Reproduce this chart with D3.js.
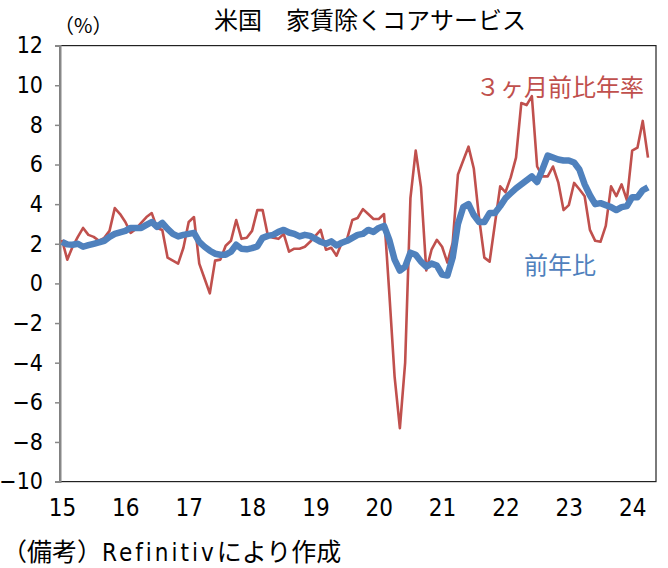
<!DOCTYPE html>
<html>
<head>
<meta charset="utf-8">
<script src="https://cdn.jsdelivr.net/npm/d3@7"></script>
<style>
  body { margin: 0; background: #fff; }
  text { font-family: "Noto Sans CJK JP", "Noto Sans", sans-serif; }
</style>
</head>
<body>
<div id="chart"></div>
<script>
// monthly, Jan 2015 - Apr 2024
var yearLabels = ["15", "16", "17", "18", "19", "20", "21", "22", "23", "24"];
var yTicks = [-10, -8, -6, -4, -2, 0, 2, 4, 6, 8, 10, 12];

// ３ヶ月前比年率
var red3m = [
  2.2, 1.2, 1.85, 2.35, 2.8, 2.45, 2.35, 2.15, 2.3, 2.65, 3.8, 3.5,
  3.1, 2.55, 2.75, 3.05, 3.35, 3.55, 2.8, 2.7, 1.3, 1.15, 1.0, 1.8,
  3.1, 3.35, 1.0, 0.25, -0.5, 1.15, 1.2, 1.9, 2.15, 3.2, 2.25, 2.3,
  2.65, 3.7, 3.7, 2.4, 2.3, 2.25, 2.5, 1.6, 1.75, 1.75, 1.85, 2.1,
  2.4, 2.7, 1.7, 1.8, 1.4, 2.05, 2.25, 3.2, 3.3, 3.75, 3.5, 3.25,
  3.25, 3.5, -0.5, -4.7, -7.3, -4.0, 4.3, 6.7, 4.85, 0.65, 1.7, 2.2,
  1.85, 1.05, 2.05, 5.5, 6.2, 6.9, 5.8, 3.3, 1.3, 1.1, 3.0, 4.9,
  4.6, 5.35, 6.35, 9.1, 9.0, 9.45, 5.9, 5.4, 5.4, 5.9, 5.1, 3.7,
  3.95, 5.07, 4.75, 4.4, 2.7, 2.15, 2.1, 2.9, 4.9, 4.4, 5.0, 4.2,
  6.7, 6.85, 8.2, 6.35
];

// 前年比
var blueYoY = [
  2.1, 1.97, 1.95, 2.0, 1.85, 1.93, 2.0, 2.07, 2.15, 2.35, 2.5, 2.58,
  2.65, 2.8, 2.8, 2.8, 2.95, 3.1, 2.85, 3.05, 2.75, 2.5, 2.37, 2.45,
  2.5, 2.55, 2.1, 1.85, 1.65, 1.5, 1.45, 1.45, 1.6, 1.95, 1.75, 1.72,
  1.78, 1.87, 2.3, 2.4, 2.45, 2.6, 2.7, 2.57, 2.5, 2.37, 2.45, 2.4,
  2.25, 2.1, 2.0, 2.12, 1.92, 2.05, 2.15, 2.3, 2.45, 2.5, 2.7, 2.6,
  2.8, 2.9, 2.2, 1.2, 0.65, 0.85, 1.55, 1.45, 1.1, 0.85, 1.0, 0.9,
  0.45, 0.4, 1.3, 3.0, 3.85, 4.0, 3.45, 3.1, 3.1, 3.55, 3.55, 3.9,
  4.3, 4.55, 4.8, 5.0, 5.2, 5.4, 5.12, 5.75, 6.45, 6.35, 6.25, 6.2,
  6.2, 6.1, 5.75, 5.0, 4.45, 4.0, 4.05, 3.95, 3.85, 3.7, 3.85, 3.9,
  4.35, 4.35, 4.7, 4.85
];

var svg = d3.select("#chart").append("svg")
    .attr("width", 668)
    .attr("height", 568);

var plotL = 60, plotR = 656, plotT = 45.6, plotB = 481.6;
var numFont = "'DejaVu Sans Condensed', 'Liberation Sans Narrow', 'Noto Sans CJK JP', sans-serif";

var x = d3.scaleLinear()
    .domain([0, 111])
    .range([62, 648]);

var y = d3.scaleLinear()
    .domain([-10, 12])
    .range([plotB, plotT]);

// frame
svg.append("rect")
    .attr("x", plotL)
    .attr("y", plotT)
    .attr("width", plotR - plotL)
    .attr("height", plotB - plotT)
    .attr("fill", "none")
    .attr("stroke", "#222")
    .attr("stroke-width", 1.2);

// left axis
var yAxis = svg.append("g")
    .attr("transform", "translate(" + plotL + ",0)")
    .call(d3.axisLeft(y).tickValues(yTicks).tickSize(5).tickFormat(function(d) { return d < 0 ? "\u2212" + (-d) : d; }));
yAxis.select(".domain").attr("stroke", "#888").attr("stroke-width", 2);
yAxis.selectAll(".tick line").attr("stroke", "#888").attr("stroke-width", 1.5);
yAxis.selectAll(".tick text")
    .attr("x", -17)
    .attr("fill", "#000")
    .style("font-size", "23px")
    .style("font-family", numFont);

// bottom labels
var xAxis = svg.append("g")
    .attr("transform", "translate(0," + plotB + ")")
    .call(d3.axisBottom(x)
        .tickValues(yearLabels.map(function(d, i) { return i * 12; }))
        .tickSize(0)
        .tickFormat(function(d, i) { return yearLabels[i]; }));
xAxis.select(".domain").remove();
xAxis.selectAll(".tick text")
    .attr("y", 17)
    .attr("fill", "#000")
    .style("font-size", "24px")
    .style("font-family", numFont);

var line = d3.line()
    .x(function(d, i) { return x(i); })
    .y(function(d) { return y(d); });

svg.append("path")
    .datum(red3m)
    .attr("fill", "none")
    .attr("stroke", "#C0504D")
    .attr("stroke-width", 2.6)
    .attr("stroke-linejoin", "round")
    .attr("d", line);

svg.append("path")
    .datum(blueYoY)
    .attr("fill", "none")
    .attr("stroke", "#4F81BD")
    .attr("stroke-width", 6.5)
    .attr("stroke-linejoin", "round")
    .attr("d", line);

// texts
svg.append("text")
    .attr("x", 370)
    .attr("y", 29)
    .attr("text-anchor", "middle")
    .style("font-size", "24px")
    .text("米国　家賃除くコアサービス");

svg.append("text")
    .attr("x", 54)
    .attr("y", 33)
    .style("font-size", "20px")
    .text("（%）");

svg.append("text")
    .attr("x", 476)
    .attr("y", 96)
    .attr("fill", "#C0504D")
    .style("font-size", "24px")
    .text("３ヶ月前比年率");

svg.append("text")
    .attr("x", 524)
    .attr("y", 274)
    .attr("fill", "#4F81BD")
    .style("font-size", "24px")
    .text("前年比");

var foot = svg.append("text")
    .attr("x", 2)
    .attr("y", 561)
    .style("font-size", "25px");
foot.append("tspan").text("（備考）");
foot.append("tspan").style("font-family", numFont).style("font-size", "24px").style("letter-spacing", "3px").text("Refinitiv");
foot.append("tspan").text("により作成");
</script>
</body>
</html>
